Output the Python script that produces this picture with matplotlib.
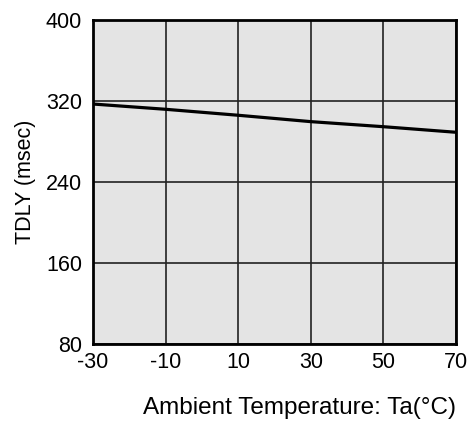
import matplotlib
matplotlib.use("Agg")
import matplotlib.pyplot as plt

# values
temp = [-30, -10, 10, 30, 50, 70]
tdly = [317, 311.8, 305.9, 299.6, 294.6, 289.1]
xticks = [-30, -10, 10, 30, 50, 70]
yticks = [80, 160, 240, 320, 400]

plt.rcParams['font.family'] = ['Liberation Sans', 'DejaVu Sans']
plt.rcParams['axes.unicode_minus'] = False

fig = plt.figure(figsize=(4.73, 4.21), dpi=100)
ax = fig.add_axes([0.1966, 0.183, 0.7674, 0.7695])
ax.set_facecolor('#e4e4e4')

ax.plot(temp, tdly, color='black', lw=2.3)

ax.set_xlim(-30, 70)
ax.set_ylim(80, 400)
ax.set_xticks(xticks)
ax.set_yticks(yticks)
ax.grid(True, color='#222222', lw=1.2)
ax.set_axisbelow(True)
ax.tick_params(length=0, labelsize=15.5)
ax.tick_params(axis='x', pad=6)
ax.tick_params(axis='y', pad=8)
for s in ax.spines.values():
    s.set_linewidth(2)

ax.set_ylabel('TDLY (msec)', fontsize=15.5, labelpad=7)
ax.set_xlabel('Ambient Temperature: Ta(\u00b0C)', fontsize=17.5, loc='right', labelpad=17)

fig.savefig('out.png', dpi=100, facecolor='white')
